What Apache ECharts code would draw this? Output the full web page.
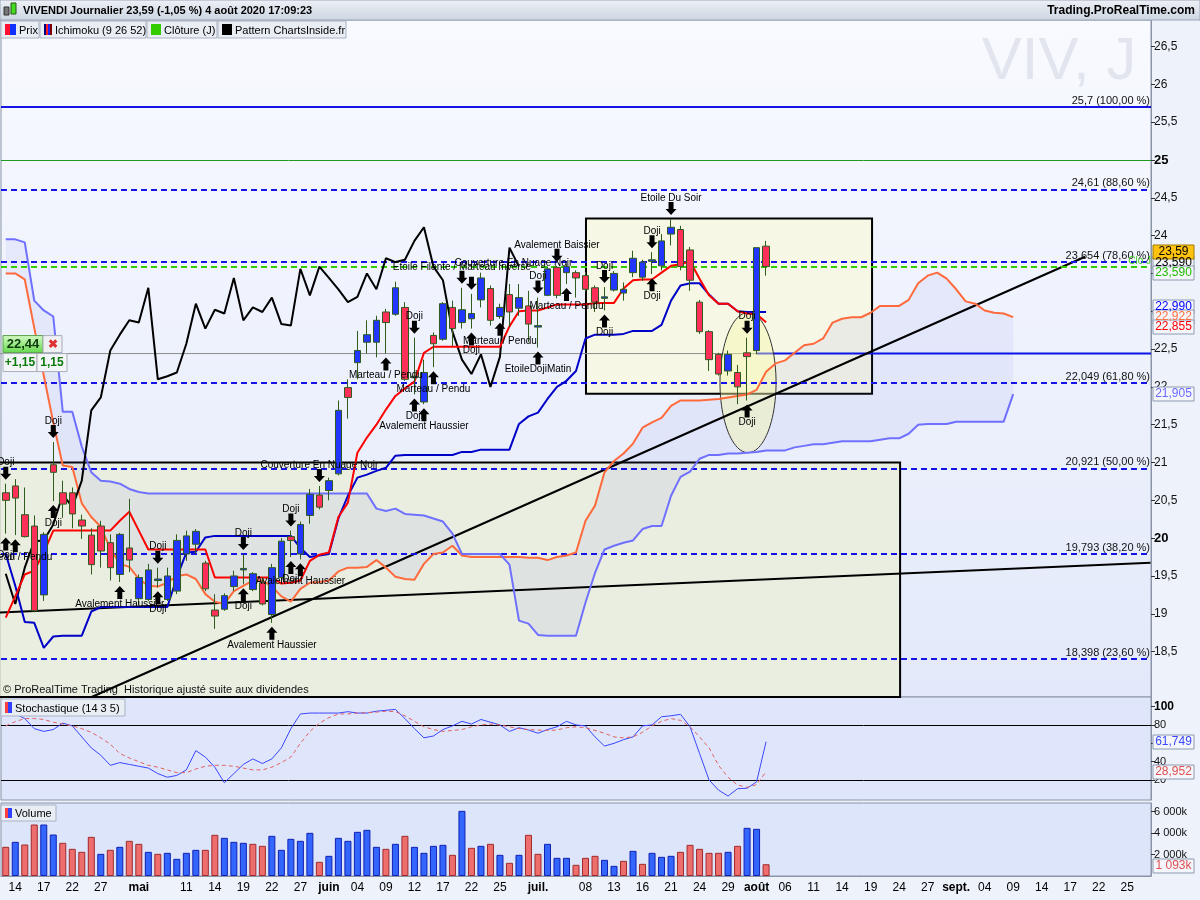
<!DOCTYPE html>
<html><head><meta charset="utf-8">
<script src="https://cdn.jsdelivr.net/npm/echarts@6/dist/echarts.min.js"></script>
<style>html,body{margin:0;padding:0;background:#eef2fa;}#c{width:1200px;height:900px;}</style>
</head><body><div id="c"></div>
<script>
// ---------- DATA ----------
const dates = [
'2020-04-09','2020-04-14','2020-04-15','2020-04-16','2020-04-17','2020-04-20','2020-04-21','2020-04-22','2020-04-23','2020-04-24','2020-04-27','2020-04-28','2020-04-29','2020-04-30',
'2020-05-04','2020-05-05','2020-05-06','2020-05-07','2020-05-08','2020-05-11','2020-05-12','2020-05-13','2020-05-14','2020-05-15','2020-05-18','2020-05-19','2020-05-20','2020-05-21','2020-05-22','2020-05-25','2020-05-26','2020-05-27','2020-05-28','2020-05-29',
'2020-06-01','2020-06-02','2020-06-03','2020-06-04','2020-06-05','2020-06-08','2020-06-09','2020-06-10','2020-06-11','2020-06-12','2020-06-15','2020-06-16','2020-06-17','2020-06-18','2020-06-19','2020-06-22','2020-06-23','2020-06-24','2020-06-25','2020-06-26','2020-06-29','2020-06-30',
'2020-07-01','2020-07-02','2020-07-03','2020-07-06','2020-07-07','2020-07-08','2020-07-09','2020-07-10','2020-07-13','2020-07-14','2020-07-15','2020-07-16','2020-07-17','2020-07-20','2020-07-21','2020-07-22','2020-07-23','2020-07-24','2020-07-27','2020-07-28','2020-07-29','2020-07-30','2020-07-31',
'2020-08-03','2020-08-04','2020-08-05','2020-08-06','2020-08-07','2020-08-10','2020-08-11','2020-08-12','2020-08-13','2020-08-14','2020-08-17','2020-08-18','2020-08-19','2020-08-20','2020-08-21','2020-08-24','2020-08-25','2020-08-26','2020-08-27','2020-08-28','2020-08-31',
'2020-09-01','2020-09-02','2020-09-03','2020-09-04','2020-09-07','2020-09-08','2020-09-09','2020-09-10','2020-09-11','2020-09-14','2020-09-15','2020-09-16','2020-09-17','2020-09-18','2020-09-21','2020-09-22','2020-09-23','2020-09-24','2020-09-25','2020-09-28','2020-09-29'];

const tickDates = ['2020-04-14','2020-04-17','2020-04-22','2020-04-27','2020-05-04','2020-05-11','2020-05-14','2020-05-19','2020-05-22','2020-05-27','2020-06-01','2020-06-04','2020-06-09','2020-06-12','2020-06-17','2020-06-22','2020-06-25','2020-07-01','2020-07-08','2020-07-13','2020-07-16','2020-07-21','2020-07-24','2020-07-29','2020-08-03','2020-08-06','2020-08-11','2020-08-14','2020-08-19','2020-08-24','2020-08-27','2020-09-01','2020-09-04','2020-09-09','2020-09-14','2020-09-17','2020-09-22','2020-09-25'];
const tickTexts = ['14','17','22','27','mai','11','14','19','22','27','juin','04','09','12','17','22','25','juil.','08','13','16','21','24','29','août','06','11','14','19','24','27','sept.','04','09','14','17','22','25'];

const priceTicks = [18.5,19,19.5,20,20.5,21,21.5,22,22.5,23,23.5,24,24.5,25,25.5,26,26.5];
const stochTicks = [20,40,60,80,100];
const volumeTicks = [2000,4000,6000];

const openP = [20.60,20.69,20.31,20.16,19.25,20.97,20.60,20.60,20.24,20.04,
 20.16,19.94,19.52,19.87,19.20,19.19,19.44,19.19,19.30,19.79,
 19.92,19.67,19.05,19.06,19.36,19.58,19.32,19.41,18.99,19.48,
 20.02,19.79,20.30,20.57,20.63,20.85,21.99,22.32,22.59,22.59,
 22.99,22.96,23.05,22.12,21.80,22.68,22.63,23.05,22.85,22.90,
 23.15,23.30,22.93,23.22,23.04,23.07,22.79,23.21,23.58,23.51,
 23.51,23.47,23.31,23.17,23.28,23.24,23.51,23.45,23.66,23.60,
 24.02,24.08,23.81,23.12,22.73,22.43,22.21,22.19,22.45,22.48,
 23.86];
const closeP = [20.50,20.53,20.02,19.04,20.05,20.87,20.45,20.32,20.16,19.65,
 19.83,19.61,20.05,19.71,19.48,19.58,19.46,19.50,19.97,20.03,
 20.09,19.33,18.97,19.24,19.50,19.60,19.53,19.13,19.61,19.96,
 19.97,20.18,20.58,20.41,20.76,21.69,21.86,22.48,22.69,22.88,
 22.85,23.31,22.10,22.14,22.19,22.57,23.10,22.77,23.02,22.97,
 23.44,22.88,23.05,22.99,23.18,22.83,22.81,23.56,23.21,23.59,
 23.44,23.29,23.12,23.19,23.50,23.29,23.70,23.65,23.68,23.93,
 24.11,23.59,23.41,22.73,22.36,22.17,22.43,22.00,22.40,23.84,
 23.59];
const lowP = [20.06,20.04,20.01,19.02,19.17,20.49,20.27,20.13,19.99,19.52,
 19.61,19.44,19.42,19.55,19.12,19.17,19.35,19.17,19.26,19.70,
 19.79,19.30,18.80,19.04,19.30,19.39,19.30,19.11,18.88,19.41,
 19.75,19.72,20.19,20.38,20.50,20.83,21.58,22.10,22.44,22.39,
 22.44,22.94,22.08,21.90,21.77,22.26,22.61,22.54,22.77,22.77,
 23.05,22.81,22.90,22.79,22.94,22.59,22.52,23.20,23.17,23.36,
 23.18,23.26,22.99,23.01,23.26,23.14,23.45,23.40,23.49,23.54,
 23.87,23.54,23.27,22.70,22.21,22.15,22.15,21.77,21.82,22.43,
 23.47];
const highP = [20.72,20.78,20.67,20.30,20.08,21.27,20.76,20.67,20.31,20.13,
 20.23,20.05,20.07,20.52,19.52,19.66,19.61,19.61,20.05,20.10,
 20.12,19.70,19.26,19.27,19.57,19.79,19.55,19.48,19.66,20.00,
 20.10,20.22,20.65,20.69,20.80,21.82,22.10,22.74,22.88,22.94,
 23.03,23.39,23.12,22.65,22.36,22.72,23.12,23.14,23.31,23.23,
 23.51,23.34,23.10,23.36,23.36,23.27,23.18,23.59,23.60,23.63,
 23.54,23.52,23.34,23.32,23.53,23.38,23.80,23.68,23.78,24.02,
 24.22,24.13,23.85,23.15,22.75,22.45,22.48,22.29,22.65,23.84,
 23.93];

const tenkan = [18.95,19.23,19.52,19.57,19.81,20.10,20.10,20.10,20.10,20.10,
 20.10,20.10,20.23,20.35,20.10,19.85,19.85,19.85,19.85,19.85,
 19.85,19.85,19.48,19.48,19.48,19.48,19.48,19.48,19.48,19.40,
 19.41,19.44,19.70,19.78,19.81,20.28,20.47,21.13,21.33,21.50,
 21.70,21.88,21.98,22.07,22.45,22.53,22.53,22.53,22.53,22.53,
 22.53,22.53,22.53,22.80,23.00,23.01,23.01,23.05,23.09,23.09,
 23.09,23.09,23.11,23.11,23.11,23.30,23.41,23.42,23.42,23.51,
 23.60,23.62,23.66,23.43,23.21,23.10,23.10,23.00,22.97,22.96,
 22.855];
const kijun = [19.79,19.37,18.89,18.88,18.55,18.70,18.71,18.71,18.71,19.03,
 19.09,19.09,19.09,19.09,19.09,19.09,19.09,19.09,19.48,19.81,
 19.82,20.01,20.03,20.03,20.03,20.03,20.03,20.03,20.03,20.03,
 20.03,19.87,19.75,19.77,19.79,20.26,20.56,20.80,20.84,20.89,
 20.93,21.09,21.10,21.10,21.10,21.10,21.10,21.10,21.14,21.14,
 21.17,21.17,21.17,21.17,21.51,21.61,21.66,21.84,22.00,22.08,
 22.21,22.64,22.69,22.69,22.69,22.70,22.74,22.74,22.74,22.82,
 23.14,23.34,23.37,23.37,23.22,23.10,23.10,23.00,22.99,22.99,
 22.99];
const senkouA = [23.50,23.50,23.42,22.78,22.15,21.53,20.96,20.94,20.46,20.28,
 20.15,19.86,19.66,19.62,19.46,19.37,19.36,19.41,19.50,19.52,
 19.46,19.26,19.16,19.13,19.30,19.37,19.44,19.44,19.36,19.23,
 19.16,19.33,19.41,19.42,19.44,19.56,19.61,19.61,19.62,19.71,
 19.61,19.49,19.46,19.45,19.66,19.79,19.81,19.90,19.77,19.75,
 19.75,19.75,19.75,19.75,19.75,19.74,19.74,19.71,19.75,19.77,
 19.81,20.23,20.43,20.87,21.02,21.12,21.25,21.46,21.53,21.59,
 21.75,21.82,21.82,21.82,21.83,21.84,21.86,21.88,21.90,21.96,
 22.20,22.31,22.35,22.45,22.55,22.57,22.64,22.85,22.90,22.92,
 22.92,22.98,23.07,23.07,23.07,23.15,23.37,23.47,23.51,23.43,
 23.29,23.13,23.10,23.01,22.98,22.97,22.922];
const senkouB = [23.95,23.95,23.91,23.14,23.01,22.93,21.67,21.67,21.21,20.87,
 20.76,20.75,20.72,20.65,20.61,20.59,20.59,20.59,20.59,20.59,
 20.59,20.59,20.59,20.59,20.59,20.59,20.59,20.59,20.59,20.59,
 20.59,20.59,20.59,20.59,20.59,20.59,20.59,20.59,20.59,20.39,
 20.36,20.39,20.32,20.31,20.30,20.26,20.22,20.06,19.79,19.79,
 19.79,19.79,19.79,19.65,18.91,18.87,18.72,18.71,18.71,18.71,
 18.71,19.15,19.54,19.85,19.90,19.94,19.97,20.12,20.16,20.16,
 20.56,20.81,20.88,21.05,21.10,21.10,21.12,21.12,21.13,21.14,
 21.16,21.16,21.16,21.20,21.22,21.24,21.24,21.26,21.28,21.28,
 21.28,21.28,21.30,21.32,21.32,21.38,21.50,21.51,21.51,21.51,
 21.54,21.54,21.54,21.54,21.54,21.54,21.905];

const stochK = [92,92,87,76,73,75,82,79,67,55,
 47,36,39,37,35,33,27,23,25,31,
 52,45,34,17,27,37,43,38,43,55,
 76,92,93,93,93,93,94.5,93,93,95,
 96,97,87,76,66,68,75,79,84,81,
 86,83,80,73,77,74.5,71,75,78,84,
 80,79,67,57,60,64,67,79,80,89,
 90,91.6,78,49,20,9,2.5,10.5,11,18,
 61.749];
const stochD = [79,83.6,87,87,86,83,81,79,76,72,
 66,59,49,44,40,36,34,31,28,28,
 32,35,36,36,35,33,31,31,34,39,
 45,60,73,82,88,92,92,93,93.5,94,
 95,94.5,90,84,78,75,73,74,75,78,
 80,81,80,78,76,75,74.5,74,74.5,77,
 78,77,74,71,67,66,67,72,79,84,
 87,85,78,67,55,36,23,14.5,12,15,
 28.952];

const volume = [2713,3178,2930,4790,4790,3860,3085,2527,2248,3643,
 2062,2434,2713,3271,2992,2248,2062,2155,1597,2155,
 2434,2434,3829,3550,3178,3085,2992,2806,3736,2434,
 3457,3271,4015,1318,1876,3550,3271,4108,4294,2713,
 2527,2992,3736,2713,2155,2806,2899,1969,6061,2620,
 2806,2992,1969,1225,1969,3829,2062,2992,1690,1690,
 1039,1690,1876,1504,946,1411,2341,1132,2155,1783,
 1876,2248,2899,2527,2155,2155,2248,2806,4480,4387,
 1093];
const volumeUp = [0,1,0,0,1,1,0,0,0,0, 1,0,1,0,0,1,0,1,1,1, 1,0,0,1,1,1,0,0,1,1,
 1,1,1,0,1,1,1,1,1,1, 0,1,0,1,1,1,1,0,1,0, 1,0,1,0,1,0,0,1,1,1,
 0,0,0,1,1,0,1,0,1,1, 1,0,0,0,0,0,1,0,1,1, 0];

const fibLevels = [25.7, 24.61, 23.654, 22.049, 20.921, 19.793, 18.398];
const fibLabels = ['25,7 (100,00 %)','24,61 (88,60 %)','23,654 (78,60 %)','22,049 (61,80 %)','20,921 (50,00 %)','19,793 (38,20 %)','18,398 (23,60 %)'];
const greenLevel = 25;
const closeLevel = 23.59;
const orderLevel = 22.44;

const patIdx = [0,0,1,5,5,12,16,16,25,25,28,30,30,31,33,40,43,43,44,45,48,49,49,52,56,56,58,59,63,63,68,68,70,78,78];
const patSide = ['top','bot','bot','top','bot','bot','top','bot','top','bot','bot','top','bot','bot','top','bot','top','bot','bot','bot','top','top','bot','bot','bot','top','top','bot','top','bot','top','bot','top','top','bot'];
const patText = ['Doji','Doji','Marteau / Pendu','Doji','Doji','Avalement Haussier','Doji','Doji','Doji','Doji','Avalement Haussier','Doji','Doji','Avalement Haussier','Couverture En Nuage Noir','Marteau / Pendu','Doji','Doji','Avalement Haussier','Marteau / Pendu','Etoile Filante / Marteau Inversé','Couverture En Nuage Noir','Doji','Marteau / Pendu','EtoileDojiMatin','Doji','Avalement Baissier','Marteau / Pendu','Doji','Doji','Doji','Doji','Etoile Du Soir','Doji','Doji'];

// drawn objects, in data coordinates (x = category position, y = price)
const trendA = [[-0.6, 19.017], [120.45, 19.675]];
const trendB = [[9.04, 17.9], [113.56, 23.72]];
const zoneBoxes = [[-0.7, 17.9, 94.1, 21.0], [61.05, 21.91, 91.15, 24.225]];
const ellipseZone = [[78.1, 22.056, 2.95, 0.926]];
const orderSplit = 79.05;

// ---------- CHART ----------
const FONT = "'Liberation Sans', Arial, sans-serif";
const NARROW = "'Liberation Sans Narrow', 'Liberation Sans', Arial, sans-serif";
const N = dates.length;
const chart = echarts.init(document.getElementById('c'), null, {width:1200, height:900});

const tickMap = {};
tickDates.forEach((d, k) => { tickMap[dates.indexOf(d)] = tickTexts[k]; });
const comma = v => String(v).replace('.', ',');

const candleData = openP.map((o, i) => [o, closeP[i], lowP[i], highP[i]]);
const chikou = closeP.slice(26);
const cloudBase = senkouA.map((a, i) => Math.min(a, senkouB[i]));
const cloudBand = senkouA.map((a, i) => Math.abs(a - senkouB[i]));
const labelOffsets = {21: [42, -10]};

const LG = echarts.graphic.LinearGradient;
const axisLineStyle = {color: '#8a94a6'};

function priceLine(name, data, color, z) {
  return {type:'line', name, xAxisIndex:0, yAxisIndex:0, data, symbol:'none',
    lineStyle:{color, width:2}, z, silent:true};
}

const option = {
  animation: false,
  backgroundColor: '#eef2fa',
  grid: [
    {left:1, top:20, width:1150, height:677, show:true, borderColor:'#8a94a6', borderWidth:1,
     backgroundColor: new LG(0,0,0,1,[{offset:0,color:'#f8faff'},{offset:1,color:'#e3e9fa'}])},
    {left:1, top:697, width:1150, height:103, show:true, borderColor:'#8a94a6', borderWidth:1, backgroundColor:'#dfe6fb'},
    {left:1, top:803, width:1150, height:73, show:true, borderColor:'#8a94a6', borderWidth:1, backgroundColor:'#dde5fb'}
  ],
  xAxis: [
    {type:'category', gridIndex:0, data:dates, boundaryGap:true, show:false},
    {type:'category', gridIndex:1, data:dates, boundaryGap:true, show:false},
    {type:'category', gridIndex:2, data:dates, boundaryGap:true,
     axisLine:{show:true, onZero:false, lineStyle:axisLineStyle}, axisTick:{show:false},
     axisLabel:{interval:(i) => tickMap[i] !== undefined, margin:6, color:'#000', fontSize:12, fontFamily:NARROW,
       formatter:(v, i) => { const t = tickMap[i] || ''; return /^[a-zé]/i.test(t) ? '{m|' + t + '}' : t; },
       rich:{m:{fontWeight:'bold', fontSize:12, fontFamily:NARROW, color:'#000'}}}},
    {type:'value', gridIndex:0, min:-0.5, max:N - 0.5, show:false}
  ],
  yAxis: [
    {type:'value', gridIndex:0, position:'right', min:17.9, max:26.85, splitLine:{show:false},
     axisLine:{show:true, onZero:false, lineStyle:axisLineStyle},
     axisTick:{show:true, length:4, customValues:priceTicks, lineStyle:{color:'#333'}},
     axisLabel:{customValues:priceTicks, margin:3, color:'#111', fontSize:12, fontFamily:FONT,
       formatter:v => (v === 20 || v === 25) ? '{b|' + v + '}' : comma(v),
       rich:{b:{fontWeight:'bold', fontSize:13, fontFamily:FONT, color:'#000'}}}},
    {type:'value', gridIndex:1, position:'right', min:-1.8, max:110.5, splitLine:{show:false},
     axisLine:{show:true, onZero:false, lineStyle:axisLineStyle},
     axisTick:{show:true, length:4, customValues:stochTicks, lineStyle:{color:'#333'}},
     axisLabel:{customValues:stochTicks, margin:3, color:'#111', fontSize:11, fontFamily:FONT,
       formatter:v => v === 100 ? '{b|100}' : String(v),
       rich:{b:{fontWeight:'bold', fontSize:12, fontFamily:FONT, color:'#000'}}}},
    {type:'value', gridIndex:2, position:'right', min:0, max:6790, splitLine:{show:false},
     axisLine:{show:true, onZero:false, lineStyle:axisLineStyle},
     axisTick:{show:true, length:4, customValues:volumeTicks, lineStyle:{color:'#333'}},
     axisLabel:{customValues:volumeTicks, margin:3, color:'#111', fontSize:11, fontFamily:FONT,
       formatter:v => (v / 1000) + ' 000k'}}
  ],
  series: [
    {type:'custom', xAxisIndex:3, yAxisIndex:0, data:zoneBoxes, z:1, silent:true,
     encode:{x:[0,2], y:[1,3]},
     renderItem:(params, api) => {
       const p1 = api.coord([api.value(0), api.value(3)]);
       const p2 = api.coord([api.value(2), api.value(1)]);
       const fill = params.dataIndex === 0 ? '#e9eee1' : '#f6f7e4';
       return {type:'rect', shape:{x:p1[0], y:p1[1], width:p2[0]-p1[0], height:p2[1]-p1[1]},
         style:{fill, stroke:'#000', lineWidth:2}};
     }},
    {type:'line', xAxisIndex:0, yAxisIndex:0, data:cloudBase, stack:'cloud', symbol:'none',
     lineStyle:{opacity:0}, z:2, silent:true},
    {type:'line', xAxisIndex:0, yAxisIndex:0, data:cloudBand, stack:'cloud', symbol:'none',
     lineStyle:{opacity:0}, areaStyle:{color:'rgba(100,100,235,0.11)'}, z:2, silent:true},
    {type:'line', xAxisIndex:3, yAxisIndex:0, data:[[-0.6, orderLevel],[orderSplit, orderLevel]], symbol:'none',
     lineStyle:{color:'#8c8c8c', width:1}, z:3, silent:true,
     markLine:{symbol:['none','none'], silent:true, animation:false,
       data: fibLevels.map((v, k) => ({yAxis:v,
         lineStyle:{color:'#1414e6', width:2, type: k === 0 ? 'solid' : [6,4]},
         label:{show:true, position:'insideEndTop', formatter:fibLabels[k], color:'#111', fontSize:11, fontFamily:FONT, distance:1}}))
         .concat([
           {yAxis:greenLevel, lineStyle:{color:'#1e9a1e', width:1, type:'solid'}, label:{show:false}},
           {yAxis:closeLevel, lineStyle:{color:'#33cc00', width:2, type:[6,4]},
            label:{show:true, position:'insideEndTop', formatter:'Clo J', color:'#44cc22', fontSize:10, fontFamily:FONT, distance:0}}
         ])}},
    {type:'line', xAxisIndex:3, yAxisIndex:0, data:[[orderSplit, orderLevel],[N - 0.5, orderLevel]], symbol:'none',
     lineStyle:{color:'#0a14e6', width:2}, z:3, silent:true},
    {type:'line', xAxisIndex:3, yAxisIndex:0, data:trendA, symbol:'none', lineStyle:{color:'#000', width:2}, z:4, silent:true},
    {type:'line', xAxisIndex:3, yAxisIndex:0, data:trendB, symbol:'none', lineStyle:{color:'#000', width:2}, z:4, silent:true},
    {type:'custom', xAxisIndex:3, yAxisIndex:0, data:ellipseZone, z:4, silent:true, encode:{x:0, y:1},
     renderItem:(params, api) => {
       const c = api.coord([api.value(0), api.value(1)]);
       const ex = api.coord([api.value(0) + api.value(2), api.value(1)]);
       const ey = api.coord([api.value(0), api.value(1) + api.value(3)]);
       const rx = ex[0] - c[0], ry = c[1] - ey[1];
       const pts = [];
       for (let a = 0; a < 96; a++) { const t = a / 96 * Math.PI * 2; pts.push([c[0] + rx * Math.cos(t), c[1] + ry * Math.sin(t)]); }
       return {type:'polygon', shape:{points:pts}, style:{fill:'rgba(246,246,170,0.45)', stroke:'#333', lineWidth:1}};
     }},
    priceLine('Senkou A', senkouA, '#ff6a3d', 5),
    priceLine('Senkou B', senkouB, '#7070ff', 5),
    priceLine('Chikou', chikou, '#000000', 5),
    priceLine('Kijun', kijun, '#0000c8', 5),
    priceLine('Tenkan', tenkan, '#ff0000', 5),
    {type:'candlestick', xAxisIndex:0, yAxisIndex:0, data:candleData, barWidth:7, z:6, silent:true,
     itemStyle:{color:'#2236ff', color0:'#ff2f5a', borderColor:'#2f5c1c', borderColor0:'#2f5c1c', borderWidth:1}},
    {type:'custom', xAxisIndex:0, yAxisIndex:0, z:7, silent:true, encode:{x:0, y:1},
     data: patIdx.map((idx, k) => [idx, patSide[k] === 'top' ? highP[idx] : lowP[idx]]),
     renderItem:(params, api) => {
       const k = params.dataIndex;
       const p = api.coord([api.value(0), api.value(1)]);
       const x = p[0], g = 4, L = 13, hw = 5.5, sw = 2.5, hh = 6;
       let pts, ty;
       if (patSide[k] === 'top') {
         const yt = p[1] - g;
         pts = [[x-sw,yt-L],[x+sw,yt-L],[x+sw,yt-hh],[x+hw,yt-hh],[x,yt],[x-hw,yt-hh],[x-sw,yt-hh]];
         ty = yt - L - 4;
       } else {
         const yt = p[1] + g;
         pts = [[x-sw,yt+L],[x+sw,yt+L],[x+sw,yt+hh],[x+hw,yt+hh],[x,yt],[x-hw,yt+hh],[x-sw,yt+hh]];
         ty = yt + L + 5;
       }
       const off = labelOffsets[k] || [0, 0];
       return {type:'group', children:[
         {type:'polygon', shape:{points:pts}, style:{fill:'#000'}},
         {type:'text', style:{text:patText[k], x:x + off[0], y:ty + off[1], align:'center', verticalAlign:'middle',
           font:'10px ' + FONT, fill:'#000'}}
       ]};
     }},
    {type:'line', xAxisIndex:1, yAxisIndex:1, data:stochK, symbol:'none', lineStyle:{color:'#3a46ff', width:1}, z:5, silent:true,
     markLine:{symbol:['none','none'], silent:true, animation:false, label:{show:false},
       lineStyle:{color:'#000', width:1, type:'solid'}, data:[{yAxis:80},{yAxis:20}]}},
    {type:'line', xAxisIndex:1, yAxisIndex:1, data:stochD, symbol:'none', lineStyle:{color:'#e06262', width:1, type:[4,3]}, z:5, silent:true},
    {type:'bar', xAxisIndex:2, yAxisIndex:2, barWidth:7, silent:true,
     data: volume.map((v, i) => ({value:v, itemStyle: volumeUp[i]
       ? {color:'#3366ff', borderColor:'#1020b0', borderWidth:1}
       : {color:'#ee6e6e', borderColor:'#a02a2a', borderWidth:1}}))}
  ]
};
chart.setOption(option);

// ---------- overlays (header, legends, value boxes) ----------
const ZT = 200;
function valueBox(y, text, color, bg, border) {
  return {type:'group', x:1153, y:Math.round(y) - 7, z:ZT, children:[
    {type:'rect', z:ZT, shape:{x:0, y:0, width:41, height:14}, style:{fill:bg || '#f4f6fb', stroke:border || '#8c9ab0', lineWidth:1}},
    {type:'text', z:ZT + 1, style:{text, x:20.5, y:7, align:'center', verticalAlign:'middle', font:'12px ' + FONT, fill:color}}
  ]};
}
function legendBox(x, w, y, h, text, icons) {
  const ch = [{type:'rect', z:ZT, shape:{x:0, y:0, width:w, height:h}, style:{fill:'#e9edf4', stroke:'#aab3c3', lineWidth:1}}];
  icons.forEach(ic => ch.push({type:'rect', z:ZT + 1, shape:{x:ic[0], y:3, width:ic[1], height:h - 6}, style:{fill:ic[2]}}));
  const lastIc = icons[icons.length - 1];
  ch.push({type:'text', z:ZT + 1, style:{text, x:lastIc[0] + lastIc[1] + 3, y:h / 2 + 1, verticalAlign:'middle', font:'11px ' + FONT, fill:'#000'}});
  return {type:'group', x, y, z:ZT, children:ch};
}
const py = v => chart.convertToPixel({yAxisIndex:0}, v);
const sy = v => chart.convertToPixel({yAxisIndex:1}, v);
const vy = v => chart.convertToPixel({yAxisIndex:2}, v);
const last = closeP.length - 1;
const oy = py(orderLevel);
const aEnd = senkouA[senkouA.length - 1], bEnd = senkouB[senkouB.length - 1];
const f3 = v => v.toFixed(3).replace('.', ',');

const graphics = [
  {type:'rect', z:ZT, shape:{x:0, y:0, width:1200, height:20},
   style:{fill:new LG(0,0,0,1,[{offset:0,color:'#eef1f6'},{offset:1,color:'#ccd5e2'}]), stroke:'#9aa6b8', lineWidth:1}},
  {type:'rect', z:ZT + 1, shape:{x:4, y:7, width:5, height:8}, style:{fill:'#777', stroke:'#333'}},
  {type:'rect', z:ZT + 1, shape:{x:11, y:3, width:5, height:11}, style:{fill:'#44dd22', stroke:'#225511'}},
  {type:'text', z:ZT + 1, style:{text:'VIVENDI Journalier 23,59 (-1,05 %) 4 août 2020 17:09:23', x:23, y:11, verticalAlign:'middle',
    font:'bold 11px ' + FONT, fill:'#000'}},
  {type:'text', z:ZT + 1, style:{text:'Trading.ProRealTime.com', x:1195, y:11, align:'right', verticalAlign:'middle',
    font:'bold 12px ' + FONT, fill:'#000'}},
  legendBox(1, 38, 21, 17, 'Prix', [[4,5,'#ff1030'],[9,6,'#1030ff']]),
  legendBox(40, 106, 21, 17, 'Ichimoku (9 26 52)', [[4,2,'#000080'],[6,2,'#ff2020'],[8,2,'#2020ff'],[10,2,'#800000']]),
  legendBox(147, 70, 21, 17, 'Clôture (J)', [[4,10,'#33cc00']]),
  legendBox(218, 128, 21, 17, 'Pattern ChartsInside.fr', [[4,10,'#000']]),
  legendBox(1, 124, 699, 17, 'Stochastique (14 3 5)', [[4,3,'#ff4040'],[7,4,'#3040ff']]),
  legendBox(1, 55, 805, 16, 'Volume', [[4,3,'#ff4040'],[7,4,'#3040ff']]),
  {type:'text', z:0, style:{text:'VIV, J', x:1059, y:62, align:'center', verticalAlign:'middle', font:'60px ' + FONT, fill:'#e2e5ee'}},
  {type:'text', z:ZT, style:{text:'© ProRealTime Trading  Historique ajusté suite aux dividendes', x:3, y:690, verticalAlign:'middle',
    font:'11px ' + FONT, fill:'#111'}},
  {type:'group', x:3, y:oy - 18, z:ZT, children:[
    {type:'rect', z:ZT, shape:{x:0, y:0, width:40, height:17}, style:{fill:new LG(0,0,0,1,[{offset:0,color:'#d6fbc6'},{offset:1,color:'#63d84a'}]), stroke:'#5aa04a'}},
    {type:'text', z:ZT + 1, style:{text:comma(orderLevel), x:20, y:9, align:'center', verticalAlign:'middle', font:'bold 13px ' + FONT, fill:'#0c3a0c'}},
    {type:'rect', z:ZT, shape:{x:40, y:0, width:19, height:17}, style:{fill:'#eef0f4', stroke:'#a6adb9'}},
    {type:'text', z:ZT + 1, style:{text:'✖', x:50, y:9, align:'center', verticalAlign:'middle', font:'bold 12px ' + FONT, fill:'#e03030'}},
    {type:'rect', z:ZT, shape:{x:0, y:18, width:34, height:18}, style:{fill:'#f3f5f8', stroke:'#a6adb9'}},
    {type:'text', z:ZT + 1, style:{text:'+1,15', x:17, y:27, align:'center', verticalAlign:'middle', font:'bold 12px ' + FONT, fill:'#0a7a0a'}},
    {type:'rect', z:ZT, shape:{x:34, y:18, width:30, height:18}, style:{fill:'#f3f5f8', stroke:'#a6adb9'}},
    {type:'text', z:ZT + 1, style:{text:'1,15', x:49, y:27, align:'center', verticalAlign:'middle', font:'bold 12px ' + FONT, fill:'#0a7a0a'}}
  ]},
  valueBox(py(closeLevel) - 4, f3(closeP[last]), '#000'),
  valueBox(py(closeLevel) + 6, f3(closeLevel), '#22bb00'),
  valueBox(py(closeLevel) - 15, closeP[last].toFixed(2).replace('.', ','), '#000', '#ffc20e', '#a07a00'),
  valueBox(py(aEnd) - 10, f3(kijun[last]), '#0000ff'),
  valueBox(py(aEnd), f3(aEnd), '#ff7040'),
  valueBox(py(aEnd) + 10, f3(tenkan[last]), '#ff0000'),
  valueBox(py(bEnd), f3(bEnd), '#6a6aff'),
  valueBox(sy(stochK[last]), f3(stochK[last]), '#3a46ff'),
  valueBox(sy(stochD[last]), f3(stochD[last]), '#e05050'),
  valueBox(vy(volume[last]) + 2, '1 ' + String(volume[last]).slice(1) + 'k', '#e05050')
];
chart.setOption({graphic: graphics});
</script></body></html>
